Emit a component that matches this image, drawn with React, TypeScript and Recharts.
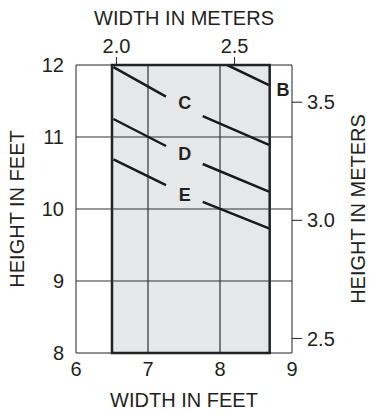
import React from 'react';
import {
  ComposedChart,
  XAxis,
  YAxis,
  Line,
  Scatter,
  ReferenceArea,
  ReferenceLine,
} from 'recharts';

const FT = 0.3048;

const feetTicksX = [6, 7, 8, 9];
const feetTicksY = [8, 9, 10, 11, 12];
const meterTicksX = [2.0, 2.5];
const meterTicksY = [2.5, 3.0, 3.5];
const gridX = [7, 8];
const gridY = [9, 10, 11];
const shadedWidth = [6.5, 8.69];
const shadedHeight = [8, 12];

const lineB = [
  { w: 8.1, h: 12.0 },
  { w: 8.68, h: 11.72 },
];
const lineC = [
  { w: 6.52, h: 11.97 },
  { w: 7.25, h: 11.56 },
  { w: 7.5, h: null },
  { w: 7.76, h: 11.29 },
  { w: 8.68, h: 10.89 },
];
const lineD = [
  { w: 6.52, h: 11.25 },
  { w: 7.25, h: 10.875 },
  { w: 7.5, h: null },
  { w: 7.76, h: 10.625 },
  { w: 8.68, h: 10.24 },
];
const lineE = [
  { w: 6.52, h: 10.69 },
  { w: 7.25, h: 10.33 },
  { w: 7.5, h: null },
  { w: 7.76, h: 10.1 },
  { w: 8.68, h: 9.73 },
];
const lineLabels = [
  { w: 8.875, h: 11.65, name: 'B' },
  { w: 7.51, h: 11.47, name: 'C' },
  { w: 7.51, h: 10.76, name: 'D' },
  { w: 7.51, h: 10.19, name: 'E' },
];

// the top axis is a category-type x axis, it needs rows of its own
const meterRows = meterTicksX.map((m) => ({ m }));

const ink = '#231f20';
const font = '"Liberation Sans", Arial, Helvetica, sans-serif';
const tickStyle = { fill: ink, fontSize: 20, fontFamily: font };

const title = (text: string, dx: number, dy: number, angle = 0) => ({
  content: (props: any) => {
    const vb = props.viewBox || {};
    const x = vb.x + (dx < 0 ? vb.width / 2 : dx);
    const y = vb.y + (dy < 0 ? vb.height / 2 : dy);
    return (
      <text
        x={x}
        y={y}
        textAnchor="middle"
        dominantBaseline="central"
        transform={angle ? `rotate(${angle} ${x} ${y})` : undefined}
        fill={ink}
        fontSize={20}
        fontFamily={font}
      >
        {text}
      </text>
    );
  },
});

const series = [lineB, lineC, lineD, lineE];

export default function App() {
  return (
    <div style={{ position: 'absolute', left: 0, top: 0, background: '#fff' }}>
      <ComposedChart
        width={369}
        height={413}
        data={meterRows}
        margin={{ top: 0, right: 0, bottom: 0, left: 0 }}
      >
        <XAxis
          xAxisId="ft"
          dataKey="w"
          type="number"
          domain={[6, 9]}
          ticks={feetTicksX}
          interval={0}
          allowDataOverflow
          height={60}
          stroke="#222"
          tickLine={false}
          tickSize={0}
          tickMargin={9}
          tick={tickStyle}
          label={title('WIDTH IN FEET', -1, 47)}
        />
        <XAxis
          xAxisId="m"
          dataKey="m"
          orientation="top"
          type="number"
          domain={[6 * FT, 9 * FT]}
          ticks={meterTicksX}
          interval={0}
          allowDataOverflow
          height={65}
          stroke="#222"
          tickSize={8}
          tickMargin={4}
          tick={tickStyle}
          tickFormatter={(v: number) => v.toFixed(1)}
          label={title('WIDTH IN METERS', -1, 18)}
        />
        <YAxis
          yAxisId="ft"
          dataKey="h"
          type="number"
          domain={[8, 12]}
          ticks={feetTicksY}
          interval={0}
          allowDataOverflow
          width={76}
          stroke="#222"
          tickLine={false}
          tickSize={0}
          tickMargin={12}
          tick={tickStyle}
          label={title('HEIGHT IN FEET', 17, -1, -90)}
        />
        <YAxis
          yAxisId="m"
          orientation="right"
          type="number"
          domain={[8 * FT, 12 * FT]}
          ticks={meterTicksY}
          interval={0}
          allowDataOverflow
          width={77}
          stroke="#222"
          tickSize={10}
          tickMargin={5}
          tick={tickStyle}
          tickFormatter={(v: number) => v.toFixed(1)}
          label={title('HEIGHT IN METERS', 66, -1, -90)}
        />
        <ReferenceArea
          xAxisId="ft"
          yAxisId="ft"
          x1={shadedWidth[0]}
          x2={shadedWidth[1]}
          y1={shadedHeight[0]}
          y2={shadedHeight[1]}
          fill="#e6e7e8"
          fillOpacity={1}
          stroke="#222"
          strokeWidth={2.5}
        />
        {gridX.map((g) => (
          <ReferenceLine key={'x' + g} xAxisId="ft" yAxisId="ft" x={g} stroke="#333" strokeWidth={1.2} />
        ))}
        {gridY.map((g) => (
          <ReferenceLine key={'y' + g} xAxisId="ft" yAxisId="ft" y={g} stroke="#333" strokeWidth={1.2} />
        ))}
        {series.map((d, i) => (
          <Line
            key={i}
            data={d}
            dataKey="h"
            xAxisId="ft"
            yAxisId="ft"
            stroke="#1a1a1a"
            strokeWidth={2.5}
            dot={false}
            activeDot={false}
            connectNulls={false}
            isAnimationActive={false}
          />
        ))}
        <Scatter
          data={lineLabels}
          dataKey="h"
          xAxisId="ft"
          yAxisId="ft"
          isAnimationActive={false}
          shape={(p: any) => (
            <text
              x={p.cx}
              y={p.cy}
              textAnchor="middle"
              dominantBaseline="central"
              fill={ink}
              fontSize={18}
              fontWeight="bold"
              fontFamily={font}
            >
              {p.payload.name}
            </text>
          )}
        />
      </ComposedChart>
    </div>
  );
}
